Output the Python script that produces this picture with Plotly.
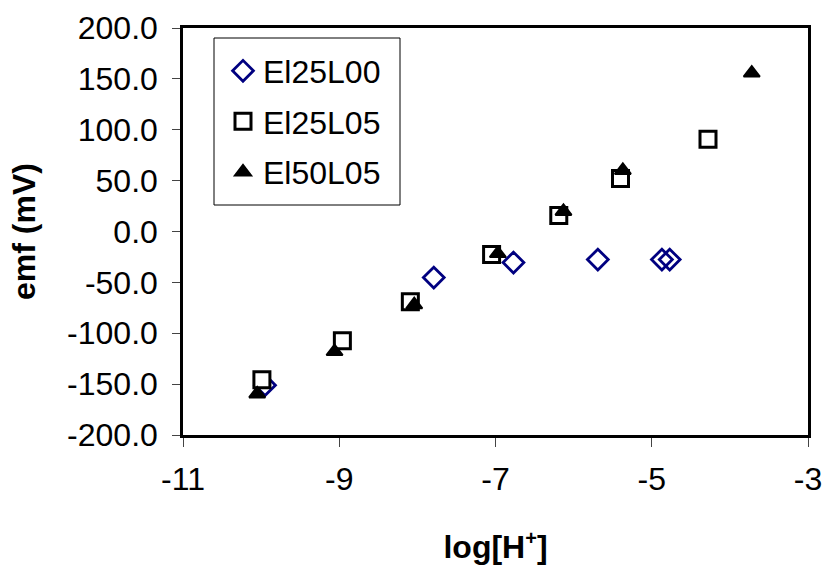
import plotly.graph_objects as go

# Data
s1_name = "El25L00"
s1_x = [-9.95, -7.79, -6.77, -5.69, -4.87, -4.77]
s1_y = [-151.0, -45.3, -30.5, -27.6, -27.6, -27.6]

s2_name = "El25L05"
s2_x = [-9.99, -8.96, -8.09, -7.05, -6.19, -5.40, -4.28]
s2_y = [-145.8, -107.4, -69.0, -22.7, 15.8, 52.2, 90.6]

s3_name = "El50L05"
s3_x = [-10.05, -9.06, -8.04, -6.97, -6.13, -5.37, -3.72]
s3_y = [-159.6, -118.0, -72.0, -21.7, 19.7, 60.0, 155.7]

x_ticks = [-11, -9, -7, -5, -3]
y_ticks = [-200, -150, -100, -50, 0, 50, 100, 150, 200]

FONT = "Liberation Sans, Arial, sans-serif"
FS = 32

fig = go.Figure()
fig.add_trace(go.Scatter(
    x=s1_x, y=s1_y, mode="markers", name=s1_name, legendgroup="a",
    marker=dict(symbol="diamond-open", size=16, color="#000080",
                line=dict(color="#000080", width=2.8)),
))
fig.add_trace(go.Scatter(
    x=s2_x, y=s2_y, mode="markers", name=s2_name, legendgroup="b",
    marker=dict(symbol="square", size=16, color="white",
                line=dict(color="black", width=3)),
))
fig.add_trace(go.Scatter(
    x=s3_x, y=s3_y, mode="markers", name=s3_name, legendgroup="c",
    marker=dict(symbol="triangle-up", size=14, color="black",
                line=dict(color="black", width=2)),
))

# legend frame (layout decoration, paper coordinates)
fig.add_shape(type="rect", xref="paper", yref="paper",
              x0=0.0496, x1=0.3472, y0=0.5651, y1=0.9754,
              line=dict(color="black", width=1), fillcolor="white", layer="below")

fig.update_layout(
    template="none",
    width=824, height=565,
    margin=dict(l=183, r=16, t=28, b=130, pad=0),
    paper_bgcolor="white", plot_bgcolor="white",
    font=dict(family=FONT, size=FS, color="black"),
    showlegend=True,
    legend=dict(
        x=0.064, y=0.962, xanchor="left", yanchor="top",
        borderwidth=0, bgcolor="rgba(0,0,0,0)",
        font=dict(family=FONT, size=FS, color="black"),
        tracegroupgap=6, traceorder="grouped",
    ),
    xaxis=dict(
        range=[-11, -3], tickvals=x_ticks, ticktext=[str(v) for v in x_ticks],
        showgrid=False, zeroline=False, automargin=False,
        showline=True, linecolor="black", linewidth=2.5, mirror=True,
        ticks="outside", ticklen=9, tickwidth=1, tickcolor="#444444",
        ticklabelstandoff=5,
        title=dict(text="<b>log[H<sup><span style='font-size:20px'>+</span></sup>]</b>",
                   font=dict(family=FONT, size=FS), standoff=41),
    ),
    yaxis=dict(
        range=[-200, 200], tickvals=y_ticks, ticktext=[f"{v:.1f}" for v in y_ticks],
        showgrid=False, zeroline=False, automargin=False,
        showline=True, linecolor="black", linewidth=2.5, mirror=True,
        ticks="outside", ticklen=8, tickwidth=1, tickcolor="#444444",
        ticklabelstandoff=8,
        title=dict(text="<b>emf (mV)</b>", font=dict(family=FONT, size=FS), standoff=22),
    ),
)

fig.write_html("out.html")
